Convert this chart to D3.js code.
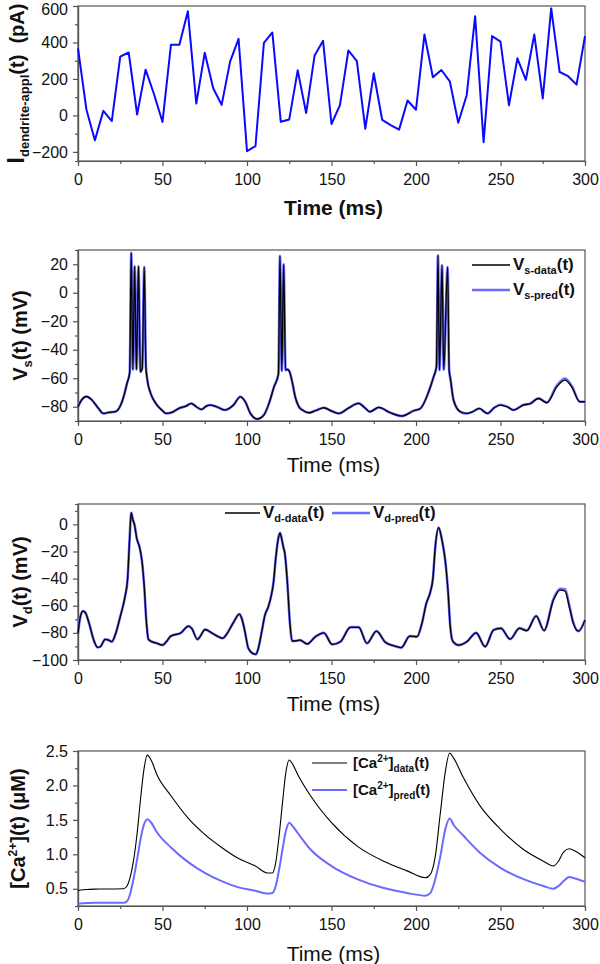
<!DOCTYPE html>
<html>
<head>
<meta charset="utf-8">
<script src="https://cdn.jsdelivr.net/npm/d3@7"></script>
<style>
  html, body { margin: 0; padding: 0; background: #fff; }
  svg { display: block; font-family: "Liberation Sans", Arial, sans-serif; }
</style>
</head>
<body>
<svg id="chart" width="600" height="964"></svg>
<script>
// ---------- DATA ----------
// Panel 1: applied dendritic current (pA), sampled every 5 ms
const iTime = [0,5,10,15,20,25,30,35,40,45,50,55,60,65,70,75,80,85,90,95,100,105,110,115,120,125,130,135,140,145,150,155,160,165,170,175,180,185,190,195,200,205,210,215,220,225,230,235,240,245,250,255,260,265,270,275,280,285,290,295,300];
const iValues = [367,31,-136,25,-31,322,345,5,251,116,-36,387,387,571,65,344,149,58,295,420,-196,-169,398,455,-35,-22,247,13,329,409,-47,56,356,298,-73,231,-25,-53,-78,82,31,444,209,249,187,-40,111,544,-147,435,405,56,313,195,444,93,587,238,215,169,435];

// Panel 2: somatic voltage (mV) [t, v]
const vsData = [[0,-80],[2,-75.5],[5,-72.8],[8,-75],[12,-81],[15,-84.7],[18,-84],[22,-83.5],[25,-79.5],[27,-73],[29,-63.6],[30.6,-56],[31.5,28],[32.5,-54],[33.5,18.5],[34.6,-54],[35.8,18.5],[36.9,-55.5],[38,-53],[39.2,18],[40.2,-52],[41,-61],[43,-70.6],[46,-77.6],[50,-82.8],[52,-84.7],[55,-84.2],[60,-81],[64,-79.5],[67,-77.7],[70,-80],[73,-81.9],[76,-79.5],[78,-78.8],[82,-80],[87,-82.3],[92,-78.8],[96,-73],[99,-76.5],[102,-84.7],[106,-88.6],[110,-85.8],[113,-77.7],[116,-66],[118.6,-57],[119.5,26],[120.6,-54.8],[121.7,20],[122.8,-54.3],[124,-53.8],[125.2,-55.5],[127,-64],[128.5,-73],[130.7,-80],[133,-82.5],[136.6,-84.2],[141,-82.5],[145.5,-80.7],[150,-83],[154.3,-84.7],[160,-81],[166,-77.7],[170,-81],[172.6,-83.5],[178,-80.5],[184.8,-84.2],[191.7,-86.5],[198.6,-82.8],[202.6,-81.2],[207.5,-69.5],[210.4,-59],[212.1,-52],[213,26.3],[213.9,-54.3],[215.4,19.3],[216.4,-54],[218.7,18],[219.6,-54],[220.5,-61.3],[222.2,-75.3],[226.2,-83.5],[230,-84.7],[233.5,-83.5],[237.4,-81.2],[242.3,-84.7],[246,-81],[249.8,-78.8],[254,-80],[257.7,-82.3],[263.6,-78.8],[267.5,-78],[272.4,-74.2],[277.4,-77.2],[283.3,-66],[288.2,-61.3],[292.1,-66],[297,-76.5],[300,-76.5]];
const vsPred = [[0,-80],[2,-75.5],[5,-72.8],[8,-75],[12,-81],[15,-84.7],[18,-84],[22,-83.5],[25,-79.5],[27,-73],[29,-63.6],[30.6,-56],[31.5,28],[32.5,-54],[33.5,18.5],[34.6,-54],[35.8,18.5],[36.9,-55.5],[38,-53],[39.2,18],[40.2,-52],[41,-61],[43,-70.6],[46,-77.6],[50,-82.8],[52,-84.7],[55,-84.2],[60,-81],[64,-79.5],[67,-77.7],[70,-80],[73,-81.9],[76,-79.5],[78,-78.8],[82,-80],[87,-82.3],[92,-78.8],[96,-73],[99,-76.5],[102,-84.7],[106,-88.6],[110,-85.8],[113,-77.7],[116,-66],[118.6,-57],[119.5,26],[120.6,-54.8],[121.7,20],[122.8,-54.3],[124,-53.8],[125.2,-55.5],[127,-64],[128.5,-73],[130.7,-80],[133,-82.5],[136.6,-84.2],[141,-82.5],[145.5,-80.7],[150,-83],[154.3,-84.7],[160,-81],[166,-77.5],[170,-81],[172.6,-83.5],[178,-80.5],[184.8,-84.2],[191.7,-86.5],[198.6,-82.8],[202.6,-81.2],[207.5,-69.5],[210.4,-59],[212.1,-52],[213,26.3],[213.9,-54.3],[215.4,19.3],[216.4,-54],[218.7,18],[219.6,-54],[220.5,-61.3],[222.2,-75.3],[226.2,-83.5],[230,-84.7],[233.5,-83.5],[237.4,-81.2],[242.3,-84.7],[246,-81],[249.8,-78.6],[254,-80],[257.7,-82.3],[263.6,-78.6],[267.5,-77.8],[272.4,-74],[277.4,-77],[283.3,-65.2],[288.2,-60.2],[292.1,-65.3],[297,-76.5],[300,-76.5]];

// Panel 3: dendritic voltage (mV) [t, v]
const vdData = [[0,-80.4],[1.4,-68],[3,-64],[4.3,-65],[6.3,-71.8],[9.3,-85.3],[11.6,-90.7],[13.2,-90.2],[16.1,-84.8],[18.1,-85.3],[20,-86.5],[22,-81.6],[25,-68],[28,-52.2],[29.3,-41],[30.5,-11.8],[31.5,8.6],[32.3,4.2],[33.5,-0.7],[34.8,-10.5],[36.4,-16.7],[37.8,-26.5],[39.2,-46],[40.4,-70.6],[41.7,-84.8],[43.7,-86.5],[46.7,-87.7],[50,-89],[52.6,-86],[54.9,-82.4],[58.5,-81],[60.4,-80.4],[65.4,-75],[67.3,-76.7],[70.7,-84.8],[72.2,-82.8],[75.2,-77.5],[79.1,-80],[83,-82.8],[85.6,-84],[88,-80.9],[91.9,-72.5],[95.5,-66.2],[96.9,-69.4],[98.8,-79.2],[100.8,-91.4],[103.3,-95.1],[105.3,-95.8],[106.7,-91.4],[108.7,-79.2],[110.6,-67],[112.6,-60.8],[114.6,-51],[115.6,-43.6],[117.1,-24],[118.5,-10.5],[119.5,-6.4],[120.5,-10.5],[121.5,-16.7],[122.4,-21.6],[123.8,-41.2],[125.4,-73],[126.8,-86],[129.3,-85.8],[131.3,-85.3],[135.6,-88.2],[140.5,-82.8],[145.5,-80],[150.4,-88.5],[155.3,-86.5],[161.2,-76],[166.1,-76],[171,-87.7],[176.6,-78.7],[181.9,-87],[186.8,-89.5],[191.3,-90.9],[196.3,-82.4],[200.6,-82.8],[203.5,-73],[206.1,-58.3],[208.5,-49.8],[210,-40],[211.4,-16.7],[213.4,-2.5],[215.4,-11.8],[217.3,-26.5],[218.9,-48.5],[220.3,-75.5],[221.9,-86.5],[225.2,-89],[230.1,-86.5],[235.6,-80],[240.9,-90.2],[245.9,-77.9],[250.2,-76.7],[255.7,-84.6],[261.2,-76.7],[265.6,-78.4],[271.1,-67.6],[275.8,-78.4],[281.3,-55.9],[285.3,-48.5],[288.2,-49.3],[290.7,-60.8],[293.1,-73],[296.1,-78.7],[300,-70.6]];
const vdPred = [[0,-80.4],[1.4,-68],[3,-64],[4.3,-65],[6.3,-71.8],[9.3,-85.3],[11.6,-90.7],[13.2,-90.2],[16.1,-84.8],[18.1,-85.3],[20,-86.5],[22,-81.6],[25,-68],[28,-52.2],[29.3,-41],[30.5,-11.8],[31.5,8.6],[32.3,4.2],[33.5,-0.7],[34.8,-10.5],[36.4,-16.7],[37.8,-26.5],[39.2,-46],[40.4,-70.6],[41.7,-84.8],[43.7,-86.5],[46.7,-87.7],[50,-89],[52.6,-86],[54.9,-82.4],[58.5,-81],[60.4,-80.4],[65.4,-75],[67.3,-76.7],[70.7,-84.8],[72.2,-82.8],[75.2,-77.5],[79.1,-80],[83,-82.8],[85.6,-84],[88,-80.9],[91.9,-72.5],[95.5,-66.2],[96.9,-69.4],[98.8,-79.2],[100.8,-91.4],[103.3,-95.1],[105.3,-95.8],[106.7,-91.4],[108.7,-79.2],[110.6,-67],[112.6,-60.8],[114.6,-51],[115.6,-43.6],[117.1,-24],[118.5,-10.5],[119.5,-6.2],[120.5,-10.5],[121.5,-16.7],[122.4,-21.6],[123.8,-41.2],[125.4,-73],[126.8,-86],[129.3,-85.8],[131.3,-85.3],[135.6,-88.2],[140.5,-82.8],[145.5,-80],[150.4,-88.5],[155.3,-86.5],[161.2,-75.8],[166.1,-75.8],[171,-87.7],[176.6,-78.7],[181.9,-87],[186.8,-89.5],[191.3,-90.9],[196.3,-82.4],[200.6,-82.8],[203.5,-73],[206.1,-58.3],[208.5,-49.8],[210,-40],[211.4,-16.7],[213.4,-2.3],[215.4,-11.8],[217.3,-26.5],[218.9,-48.5],[220.3,-75.5],[221.9,-86.5],[225.2,-89],[230.1,-86.5],[235.6,-80],[240.9,-90.2],[245.9,-77.9],[250.2,-76.5],[255.7,-84.6],[261.2,-76.5],[265.6,-78.2],[271.1,-67.4],[275.8,-78.2],[281.3,-55.2],[285.3,-47.6],[288.2,-47.9],[290.7,-59.6],[293.1,-72.5],[296.1,-78.7],[300,-70.6]];

// Panel 4: calcium concentration (uM) [t, c]
const caData = [[0,0.476],[5,0.49],[10,0.495],[20,0.497],[27,0.5],[29,0.54],[31,0.68],[33,0.93],[35,1.31],[37,1.8],[39,2.23],[41,2.44],[43,2.38],[47,2.14],[55,1.85],[65,1.53],[75,1.29],[85,1.1],[95,0.94],[105,0.83],[112,0.73],[115,0.73],[117,0.88],[119,1.27],[121,1.75],[123,2.19],[125,2.37],[127,2.31],[130,2.16],[137.6,1.85],[150,1.46],[165.2,1.12],[180.9,0.9],[194.7,0.76],[205.5,0.66],[208.5,0.71],[211.4,0.97],[214.4,1.6],[217.3,2.19],[219.9,2.47],[222.2,2.4],[228.1,2.11],[238,1.7],[250.2,1.36],[263.6,1.07],[275.4,0.9],[281.3,0.83],[284.3,0.9],[287.2,1.03],[290.7,1.08],[294.1,1.05],[300,0.95]];
const caPred = [[0,0.282],[10,0.297],[27,0.297],[29,0.32],[31,0.44],[33,0.66],[35,0.93],[37,1.22],[39,1.43],[41,1.51],[43,1.47],[47,1.31],[55,1.1],[65,0.89],[75,0.73],[85,0.61],[95,0.52],[105,0.47],[112,0.43],[115,0.44],[117,0.54],[119,0.78],[121,1.07],[123,1.34],[125,1.46],[127,1.41],[130,1.31],[137.6,1.07],[150,0.83],[165.2,0.64],[180.9,0.51],[194.7,0.44],[205.5,0.4],[208.5,0.44],[211.4,0.64],[214.4,0.97],[217.3,1.36],[219.9,1.52],[222.2,1.43],[228.1,1.27],[238,1.02],[250.2,0.8],[263.6,0.64],[275.4,0.54],[281.3,0.5],[284.3,0.54],[287.2,0.61],[290.7,0.67],[294.1,0.65],[300,0.6]];

// Tick values
const xTicks = [0,50,100,150,200,250,300];
const xMinor = [25,75,125,175,225,275];
const iTicks = [-200,0,200,400,600];
const iMinor = [-100,100,300,500];
const vsTicks = [-80,-60,-40,-20,0,20];
const vsMinor = [-90,-70,-50,-30,-10,10,30];
const vdTicks = [-100,-80,-60,-40,-20,0];
const vdMinor = [-90,-70,-50,-30,-10,10];
const caTicks = [0.5,1.0,1.5,2.0,2.5];
const caMinor = [0.25,0.75,1.25,1.75,2.25];

// ---------- DRAW ----------
const svg = d3.select("#chart");
const AX = "#555";
const BLUE1 = "#0a0aff";
const PRED = "#6b6bff";
const left = 78, right = 585;

function panel(cfg) {
  const g = svg.append("g");
  const x = d3.scaleLinear().domain([0, 300]).range([left, right]);
  const y = d3.scaleLinear().domain(cfg.yDomain).range([cfg.bottom, cfg.top]);

  // box
  g.append("rect").attr("x", left).attr("y", cfg.top)
    .attr("width", right - left).attr("height", cfg.bottom - cfg.top)
    .attr("fill", "none").attr("stroke", AX).attr("stroke-width", 1.2);

  // minor ticks
  const xm = g.append("g").attr("transform", `translate(0,${cfg.bottom})`)
    .call(d3.axisBottom(x).tickValues(xMinor).tickSize(3).tickFormat(""));
  const ym = g.append("g").attr("transform", `translate(${left},0)`)
    .call(d3.axisLeft(y).tickValues(cfg.yMinor.filter(v => v >= cfg.yDomain[0] && v <= cfg.yDomain[1])).tickSize(3).tickFormat(""));
  // major axes
  const xa = g.append("g").attr("transform", `translate(0,${cfg.bottom})`)
    .call(d3.axisBottom(x).tickValues(xTicks).tickSize(5).tickSizeOuter(0).tickPadding(8));
  const ya = g.append("g").attr("transform", `translate(${left},0)`)
    .call(d3.axisLeft(y).tickValues(cfg.yTicks).tickSize(5).tickSizeOuter(0).tickPadding(5)
      .tickFormat(cfg.yFmt || d3.format("d")));
  [xm, ym, xa, ya].forEach(a => {
    a.select(".domain").attr("stroke", AX).attr("stroke-width", 1.2);
    a.selectAll(".tick line").attr("stroke", AX).attr("stroke-width", 1.2);
    a.selectAll(".tick text").attr("fill", "#111").style("font-size", "16px")
      .style("font-family", '"Liberation Sans", Arial, sans-serif');
  });
  // keep a label sitting on the very top edge inside the picture
  ya.selectAll(".tick text").filter(d => y(d) < 10).attr("dy", "0.55em");

  // x title
  g.append("text").attr("x", (left + right) / 2 + 2).attr("y", cfg.xTitleY)
    .attr("text-anchor", "middle").attr("fill", "#111")
    .style("font-size", "21px").style("font-weight", cfg.xBold ? "bold" : "normal")
    .text("Time (ms)");

  // y title
  const yt = g.append("text")
    .attr("transform", `translate(${cfg.yTitleX},${(cfg.top + cfg.bottom) / 2}) rotate(-90)`)
    .attr("text-anchor", "middle").attr("fill", "#111")
    .style("font-size", "20px").style("font-weight", "bold");
  cfg.yTitle(yt);

  return { g, x, y };
}

function addLine(p, data, color, width, curve) {
  const line = d3.line().x(d => p.x(d[0])).y(d => p.y(d[1])).curve(curve || d3.curveMonotoneX);
  p.g.append("path").datum(data).attr("d", line)
    .attr("fill", "none").attr("stroke", color).attr("stroke-width", width)
    .attr("stroke-linejoin", "round");
}

function legendItem(g, x1, x2, yy, color, width, tx, textFn, size) {
  g.append("line").attr("x1", x1).attr("x2", x2).attr("y1", yy).attr("y2", yy)
    .attr("stroke", color).attr("stroke-width", width);
  const t = g.append("text").attr("x", tx).attr("y", yy + 5).attr("fill", "#111")
    .style("font-size", size + "px").style("font-weight", "bold");
  textFn(t);
}

// ---- Panel 1
const p1 = panel({
  top: 6, bottom: 161, yDomain: [-250, 600], yTicks: iTicks, yMinor: iMinor,
  xTitleY: 215, xBold: true, yTitleX: 24,
  yTitle: t => {
    t.append("tspan").style("font-size", "23px").text("I");
    t.append("tspan").attr("dy", 5).style("font-size", "13px").text("dendrite-appl");
    t.append("tspan").attr("dy", -5).text("(t)\u00a0 (pA)");
  }
});
addLine(p1, iTime.map((t, i) => [t, iValues[i]]), BLUE1, 2, d3.curveLinear);

// ---- Panel 2
const p2 = panel({
  top: 250, bottom: 421, yDomain: [-90, 30], yTicks: vsTicks, yMinor: vsMinor,
  xTitleY: 472, xBold: false, yTitleX: 27,
  yTitle: t => {
    t.append("tspan").text("V");
    t.append("tspan").attr("dy", 5).style("font-size", "13px").text("s");
    t.append("tspan").attr("dy", -5).text("(t) (mV)");
  }
});
addLine(p2, vsPred, PRED, 2.6);
addLine(p2, vsData, "#000", 1.3);
legendItem(p2.g, 472, 510, 265, "#000", 1.3, 513, t => {
  t.append("tspan").text("V");
  t.append("tspan").attr("dy", 4).style("font-size", "11px").text("s-data");
  t.append("tspan").attr("dy", -4).text("(t)");
}, 17);
legendItem(p2.g, 472, 510, 290, PRED, 2.6, 513, t => {
  t.append("tspan").text("V");
  t.append("tspan").attr("dy", 4).style("font-size", "11px").text("s-pred");
  t.append("tspan").attr("dy", -4).text("(t)");
}, 17);

// ---- Panel 3
const p3 = panel({
  top: 504, bottom: 660, yDomain: [-100, 15], yTicks: vdTicks, yMinor: vdMinor,
  xTitleY: 711, xBold: false, yTitleX: 27,
  yTitle: t => {
    t.append("tspan").text("V");
    t.append("tspan").attr("dy", 5).style("font-size", "13px").text("d");
    t.append("tspan").attr("dy", -5).text("(t) (mV)");
  }
});
addLine(p3, vdPred, PRED, 2.6);
addLine(p3, vdData, "#000", 1.3);
legendItem(p3.g, 225, 260, 513, "#000", 1.3, 263, t => {
  t.append("tspan").text("V");
  t.append("tspan").attr("dy", 4).style("font-size", "11px").text("d-data");
  t.append("tspan").attr("dy", -4).text("(t)");
}, 17);
legendItem(p3.g, 332, 370, 513, PRED, 2.6, 373, t => {
  t.append("tspan").text("V");
  t.append("tspan").attr("dy", 4).style("font-size", "11px").text("d-pred");
  t.append("tspan").attr("dy", -4).text("(t)");
}, 17);

// ---- Panel 4
const p4 = panel({
  top: 751, bottom: 906, yDomain: [0.25, 2.5], yTicks: caTicks, yMinor: caMinor,
  xTitleY: 961, xBold: false, yTitleX: 25, yFmt: d3.format(".1f"),
  yTitle: t => {
    t.append("tspan").text("[Ca");
    t.append("tspan").attr("dy", -8).style("font-size", "12px").text("2+");
    t.append("tspan").attr("dy", 8).text("](t) (μM)");
  }
});
addLine(p4, caData, "#000", 1.1);
addLine(p4, caPred, PRED, 2);
legendItem(p4.g, 312, 347, 763, "#000", 1.1, 353, t => {
  t.append("tspan").text("[Ca");
  t.append("tspan").attr("dy", -6).style("font-size", "10px").text("2+");
  t.append("tspan").attr("dy", 6).text("]");
  t.append("tspan").attr("dy", 4).style("font-size", "10px").text("data");
  t.append("tspan").attr("dy", -4).text("(t)");
}, 15);
legendItem(p4.g, 312, 347, 790, PRED, 2, 353, t => {
  t.append("tspan").text("[Ca");
  t.append("tspan").attr("dy", -6).style("font-size", "10px").text("2+");
  t.append("tspan").attr("dy", 6).text("]");
  t.append("tspan").attr("dy", 4).style("font-size", "10px").text("pred");
  t.append("tspan").attr("dy", -4).text("(t)");
}, 15);
</script>
</body>
</html>
